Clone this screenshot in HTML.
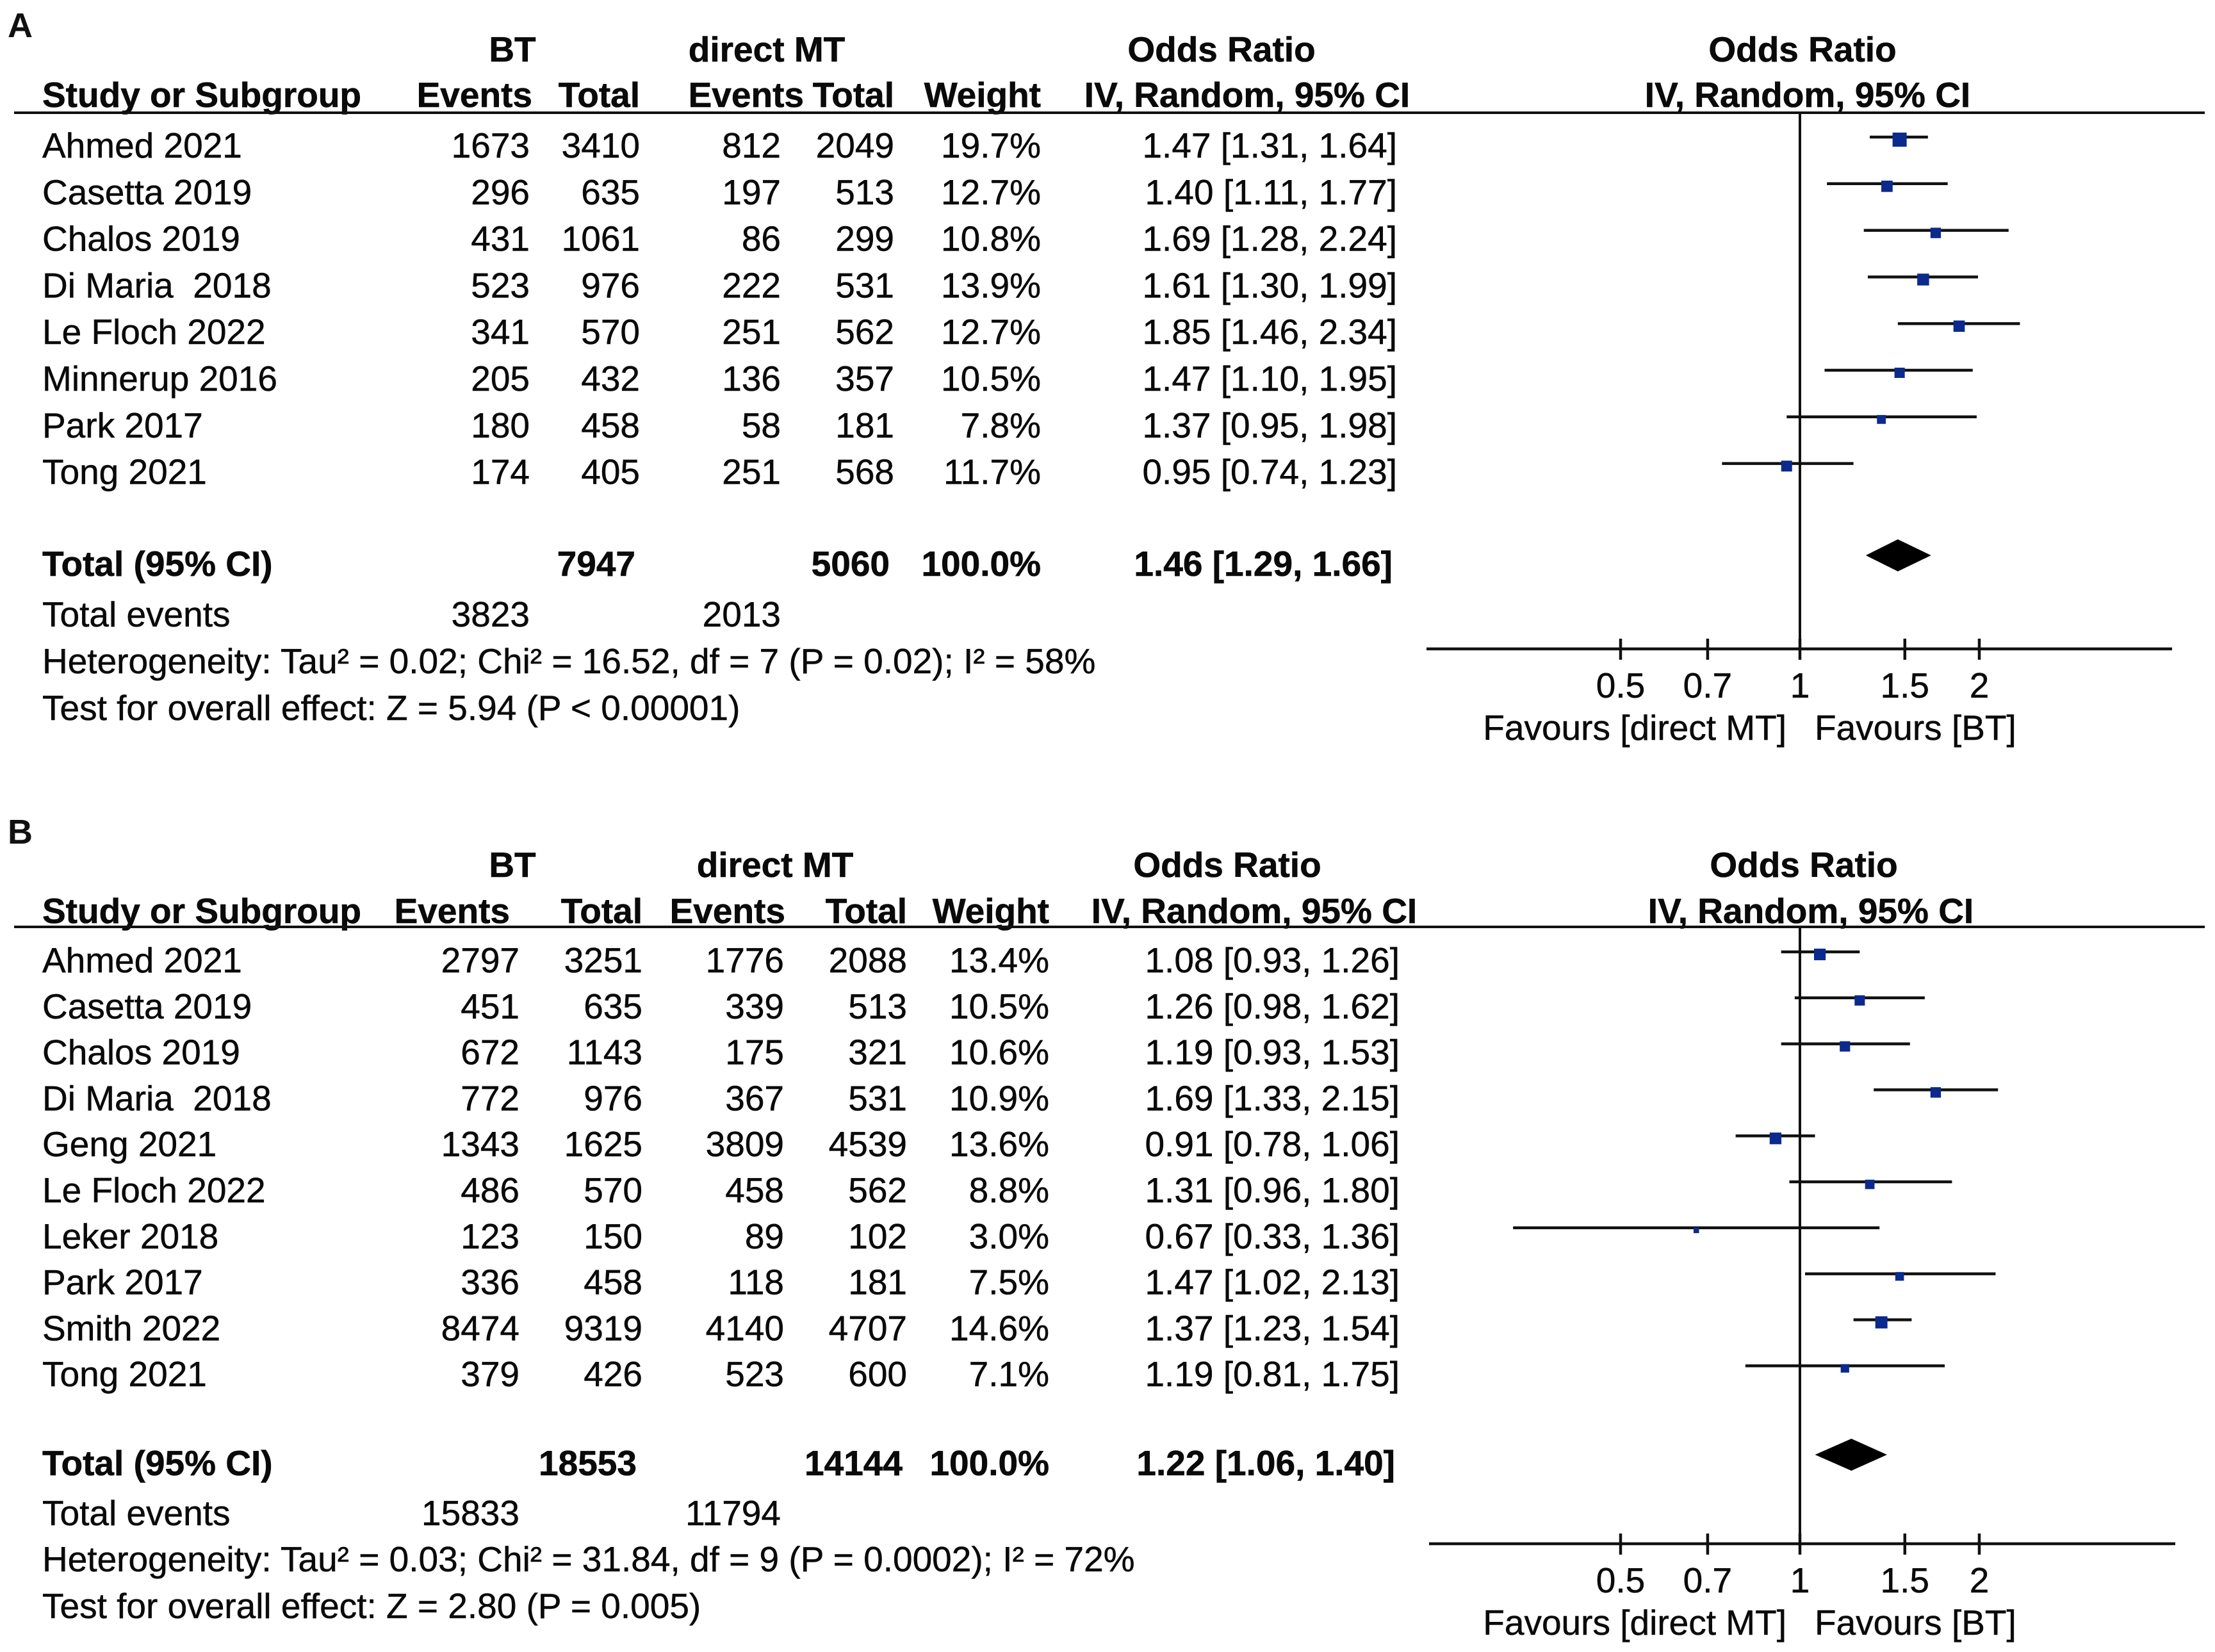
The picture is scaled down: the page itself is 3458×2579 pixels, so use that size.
<!DOCTYPE html>
<html><head><meta charset="utf-8">
<style>
html,body{margin:0;padding:0;background:#fff;}
svg{display:block;font-family:"Liberation Sans",Arial,sans-serif;}
text{white-space:pre;}
</style></head>
<body>
<svg id="fig" width="3458" height="2579" viewBox="0 0 3458 2579" xmlns="http://www.w3.org/2000/svg"></svg>
<script>
// ---- Panel A data ----
const studiesA = ["Ahmed 2021","Casetta 2019","Chalos 2019","Di Maria  2018","Le Floch 2022","Minnerup 2016","Park 2017","Tong 2021"];
const btEventsA = [1673,296,431,523,341,205,180,174];
const btTotalA = [3410,635,1061,976,570,432,458,405];
const mtEventsA = [812,197,86,222,251,136,58,251];
const mtTotalA = [2049,513,299,531,562,357,181,568];
const weightA = [19.7,12.7,10.8,13.9,12.7,10.5,7.8,11.7];
const orA = [1.47,1.40,1.69,1.61,1.85,1.47,1.37,0.95];
const loA = [1.31,1.11,1.28,1.30,1.46,1.10,0.95,0.74];
const hiA = [1.64,1.77,2.24,1.99,2.34,1.95,1.98,1.23];
const totalA = {bt:"7947", mt:"5060", or:1.46, lo:1.29, hi:1.66, btEv:"3823", mtEv:"2013"};
const hetA = "Heterogeneity: Tau\u00B2 = 0.02; Chi\u00B2 = 16.52, df = 7 (P = 0.02); I\u00B2 = 58%";
const testA = "Test for overall effect: Z = 5.94 (P < 0.00001)";

// ---- Panel B data ----
const studiesB = ["Ahmed 2021","Casetta 2019","Chalos 2019","Di Maria  2018","Geng 2021","Le Floch 2022","Leker 2018","Park 2017","Smith 2022","Tong 2021"];
const btEventsB = [2797,451,672,772,1343,486,123,336,8474,379];
const btTotalB = [3251,635,1143,976,1625,570,150,458,9319,426];
const mtEventsB = [1776,339,175,367,3809,458,89,118,4140,523];
const mtTotalB = [2088,513,321,531,4539,562,102,181,4707,600];
const weightB = [13.4,10.5,10.6,10.9,13.6,8.8,3.0,7.5,14.6,7.1];
const orB = [1.08,1.26,1.19,1.69,0.91,1.31,0.67,1.47,1.37,1.19];
const loB = [0.93,0.98,0.93,1.33,0.78,0.96,0.33,1.02,1.23,0.81];
const hiB = [1.26,1.62,1.53,2.15,1.06,1.80,1.36,2.13,1.54,1.75];
const totalB = {bt:"18553", mt:"14144", or:1.22, lo:1.06, hi:1.40, btEv:"15833", mtEv:"11794"};
const hetB = "Heterogeneity: Tau\u00B2 = 0.03; Chi\u00B2 = 31.84, df = 9 (P = 0.0002); I\u00B2 = 72%";
const testB = "Test for overall effect: Z = 2.80 (P = 0.005)";

const tickVals = [0.5,0.7,1,1.5,2];
const tickLabels = ["0.5","0.7","1","1.5","2"];

const NS = "http://www.w3.org/2000/svg";
const svg = document.getElementById('fig');
const FS = 55;
function el(tag, attrs, parent){
  const e = document.createElementNS(NS, tag);
  for (const k in attrs) e.setAttribute(k, attrs[k]);
  (parent||svg).appendChild(e);
  return e;
}
function txt(g, s, x, y, anchor, bold, name){
  const t = el('text', {x:x, y:y, 'text-anchor':anchor, 'dominant-baseline':'central', 'font-size':FS, 'font-weight':bold?'bold':'normal', fill:'#0a0a0a', stroke:'#0a0a0a', 'stroke-width':bold?0.6:0.5}, g);
  t.textContent = s;
  
  
  return t;
}
const X1 = 2810, PX_PER_LOG2 = 280;
function xScale(v){ return X1 + Math.log2(v) * PX_PER_LOG2; }
function fmt(v){ return v.toFixed(2); }

function panel(o){
  const g = el('g', {});
  
  
  const lab = el('text', {x:12, y:o.top+2, 'dominant-baseline':'central', 'font-size':54, 'font-weight':'bold', fill:'#111'}, g);
  lab.textContent = o.letter;
  
  
  const c = o.cols;
  txt(g, "BT", c.btHead, o.h1, 'middle', true, 'bt-group-header');
  txt(g, "direct MT", c.mtHead, o.h1, 'middle', true, 'mt-group-header');
  txt(g, "Odds Ratio", c.orHead, o.h1, 'middle', true, 'odds-ratio-header');
  txt(g, "Odds Ratio", c.plotHead, o.h1, 'middle', true, 'plot-odds-ratio-header');
  txt(g, "Study or Subgroup", 66, o.h2, 'start', true, 'study-column-header');
  txt(g, "Events", c.btEvH, o.h2, 'end', true, 'bt-events-header');
  txt(g, "Total", c.btTot, o.h2, 'end', true, 'bt-total-header');
  txt(g, "Events", c.mtEvH, o.h2, 'end', true, 'mt-events-header');
  txt(g, "Total", c.mtTot, o.h2, 'end', true, 'mt-total-header');
  txt(g, "Weight", c.wt, o.h2, 'end', true, 'weight-header');
  txt(g, "IV, Random, 95% CI", c.orHead2, o.h2, 'middle', true, 'method-header');
  txt(g, "IV, Random, 95% CI", c.plotHead2, o.h2, 'middle', true, 'plot-method-header');
  const hl = el('line', {x1:22, x2:3442, y1:o.line, y2:o.line, stroke:'#111', 'stroke-width':4}, g);
  
  
  const vl = el('line', {x1:X1, x2:X1, y1:o.line, y2:o.axisY, stroke:'#111', 'stroke-width':4}, g);
  
  
  o.studies.forEach((s,i)=>{
    const y = o.row0 + i*o.rowH;
    txt(g, s, 66, y, 'start', false, 'study-name');
    txt(g, String(o.btE[i]), c.btEv, y, 'end', false, 'bt-events');
    txt(g, String(o.btT[i]), c.btTot, y, 'end', false, 'bt-total');
    txt(g, String(o.mtE[i]), c.mtEv, y, 'end', false, 'mt-events');
    txt(g, String(o.mtT[i]), c.mtTot, y, 'end', false, 'mt-total');
    txt(g, o.w[i].toFixed(1)+"%", c.wt, y, 'end', false, 'weight-value');
    txt(g, fmt(o.or[i])+" ["+fmt(o.lo[i])+", "+fmt(o.hi[i])+"]", c.orTxt, y, 'end', false, 'odds-ratio-value');
    const ly = y - 13;
    const ci = el('line', {x1:xScale(o.lo[i]), x2:xScale(o.hi[i]), y1:ly, y2:ly, stroke:'#111', 'stroke-width':4.5}, g);
    
    
    const sz = 4.96*Math.sqrt(o.w[i]);
    const sq = el('rect', {x:xScale(o.or[i])-sz/2, y:ly+4-sz/2, width:sz, height:sz, fill:'#0b2a8c'}, g);
    
    
  });
  const T = o.total;
  txt(g, "Total (95% CI)", 66, o.totY, 'start', true, 'total-label');
  txt(g, T.bt, c.totBt, o.totY, 'end', true, 'bt-total-n');
  txt(g, T.mt, c.totMt, o.totY, 'end', true, 'mt-total-n');
  txt(g, "100.0%", c.wt, o.totY, 'end', true, 'total-weight');
  txt(g, fmt(T.or)+" ["+fmt(T.lo)+", "+fmt(T.hi)+"]", c.totOr, o.totY, 'end', true, 'pooled-odds-ratio');
  const dy = o.totY - 13;
  const dm = el('polygon', {points:`${xScale(T.lo)},${dy} ${xScale(T.or)},${dy-25} ${xScale(T.hi)},${dy} ${xScale(T.or)},${dy+25}`, fill:'#000'}, g);
  
  
  txt(g, "Total events", 66, o.evY, 'start', false, 'total-events-label');
  txt(g, T.btEv, c.btEv, o.evY, 'end', false, 'bt-total-events');
  txt(g, T.mtEv, c.mtEvTot, o.evY, 'end', false, 'mt-total-events');
  txt(g, o.het, 66, o.hetY, 'start', false, 'heterogeneity-stats');
  txt(g, o.test, 66, o.testY, 'start', false, 'overall-effect-test');
  const ax = el('line', {x1:o.axX1, x2:o.axX2, y1:o.axisY, y2:o.axisY, stroke:'#111', 'stroke-width':4.5}, g);
  
  
  tickVals.forEach((v,i)=>{
    const x = xScale(v);
    const tk = el('line', {x1:x, x2:x, y1:o.axisY-16, y2:o.axisY+17, stroke:'#111', 'stroke-width':4.5}, g);
    
    
    txt(g, tickLabels[i], x, o.axisY+57, 'middle', false, 'x-tick-label');
  });
  txt(g, "Favours [direct MT]", 2789, o.axisY+123, 'end', false, 'favours-control-label');
  txt(g, "Favours [BT]", 2833, o.axisY+123, 'start', false, 'favours-bt-label');
}

panel({name:'panel-a', letter:'A', top:38, h1:77, h2:148, line:176, row0:227, rowH:72.8,
  studies:studiesA, btE:btEventsA, btT:btTotalA, mtE:mtEventsA, mtT:mtTotalA, w:weightA, or:orA, lo:loA, hi:hiA,
  total:totalA, het:hetA, test:testA, totY:880, evY:959, hetY:1032, testY:1105, axisY:1013, axX1:2227, axX2:3391,
  cols:{btHead:800, mtHead:1197, orHead:1907, plotHead:2814, btEvH:831, btEv:827, btTot:999, mtEvH:1255, mtEv:1219, mtTot:1396, wt:1625,
        orHead2:1947, plotHead2:2822, orTxt:2181, totBt:992, totMt:1389, totOr:2174, mtEvTot:1219}});

panel({name:'panel-b', letter:'B', top:1297, h1:1350, h2:1422, line:1447, row0:1499, rowH:71.8,
  studies:studiesB, btE:btEventsB, btT:btTotalB, mtE:mtEventsB, mtT:mtTotalB, w:weightB, or:orB, lo:loB, hi:hiB,
  total:totalB, het:hetB, test:testB, totY:2284, evY:2362, hetY:2434, testY:2507, axisY:2410, axX1:2231, axX2:3396,
  cols:{btHead:800, mtHead:1210, orHead:1916, plotHead:2816, btEvH:796, btEv:811, btTot:1003, mtEvH:1226, mtEv:1224, mtTot:1416, wt:1638,
        orHead2:1958, plotHead2:2827, orTxt:2185, totBt:994, totMt:1409, totOr:2178, mtEvTot:1219}});
</script>
</body></html>
